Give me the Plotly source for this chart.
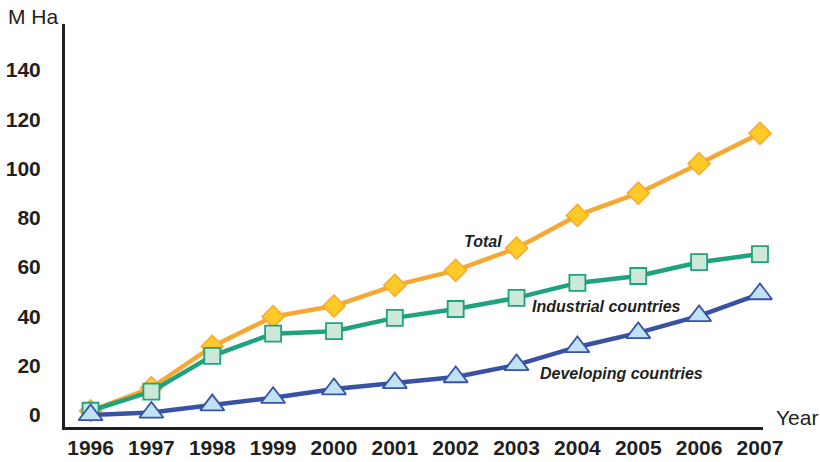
import plotly.graph_objects as go

years = [1996, 1997, 1998, 1999, 2000, 2001, 2002, 2003, 2004, 2005, 2006, 2007]
total = [1.7, 11.0, 27.8, 39.9, 44.2, 52.6, 58.7, 67.7, 81.0, 90.0, 102.0, 114.3]
industrial = [1.7, 9.5, 24.0, 33.0, 34.0, 39.4, 43.0, 47.5, 53.6, 56.4, 62.0, 65.3]
developing = [0.0, 1.0, 4.0, 7.0, 10.5, 13.0, 15.4, 20.3, 27.6, 33.3, 40.2, 49.1]
y_ticks = [0, 20, 40, 60, 80, 100, 120, 140]

FONT = "Arial, Liberation Sans, sans-serif"
DARK = "#231F20"

fig = go.Figure()

fig.add_trace(go.Scatter(
    x=years, y=total, mode="lines+markers", name="Total",
    line=dict(color="#F6A832", width=4.5),
    marker=dict(symbol="diamond", size=17, color="#FFC926",
                line=dict(color="#F6A832", width=1.5)),
    cliponaxis=False))
fig.add_trace(go.Scatter(
    x=years, y=industrial, mode="lines+markers", name="Industrial countries",
    line=dict(color="#1FA27E", width=4.5),
    marker=dict(symbol="square", size=16, color="#CCE8D8",
                line=dict(color="#1FA27E", width=1.8)),
    cliponaxis=False))
fig.add_trace(go.Scatter(
    x=years, y=developing, mode="lines+markers", name="Developing countries",
    line=dict(color="#3A52A4", width=4.5),
    marker=dict(symbol="triangle-up", size=21, color="#BFE3F4",
                line=dict(color="#3A52A4", width=1.8)),
    cliponaxis=False))

label_font = dict(family=FONT, size=16, color=DARK)
fig.add_annotation(x=2002.45, y=70.6, text="<b><i>Total</i></b>", showarrow=False, font=label_font)
fig.add_annotation(x=2004.48, y=44.2, text="<b><i>Industrial countries</i></b>", showarrow=False, font=label_font)
fig.add_annotation(x=2004.72, y=17.0, text="<b><i>Developing countries</i></b>", showarrow=False, font=label_font)

plot_w = 820 - 65 - 57
plot_h = 462 - 24 - 35
fig.add_annotation(x=(6 - 65) / plot_w, y=(427 - 17) / plot_h, xref="paper", yref="paper",
                   text="M Ha", showarrow=False, xanchor="left", yanchor="middle",
                   font=dict(family=FONT, size=21, color=DARK))
fig.add_annotation(x=(774 - 65) / plot_w, y=(427 - 417) / plot_h, xref="paper", yref="paper",
                   text="Year", showarrow=False, xanchor="left", yanchor="middle",
                   font=dict(family=FONT, size=21, color=DARK))

fig.update_layout(
    width=820, height=462,
    margin=dict(l=65, r=57, t=24, b=35, autoexpand=False),
    paper_bgcolor="white", plot_bgcolor="white",
    showlegend=False,
    font=dict(family=FONT, color=DARK),
    xaxis=dict(range=[1995.58, 2007.05], tickvals=years, ticktext=[str(y) for y in years],
               showgrid=False, zeroline=False, showline=True, linecolor=DARK, linewidth=3,
               ticks="", ticklabelstandoff=0, automargin=False,
               tickfont=dict(family=FONT, size=21, color=DARK, weight="bold")),
    yaxis=dict(range=[-4.9, 158.7], tickvals=y_ticks,
               showgrid=False, zeroline=False, showline=True, linecolor=DARK, linewidth=3,
               ticks="", ticklabelstandoff=17, automargin=False,
               tickfont=dict(family=FONT, size=21, color=DARK, weight="bold")),
)

fig.write_html("out.html")
